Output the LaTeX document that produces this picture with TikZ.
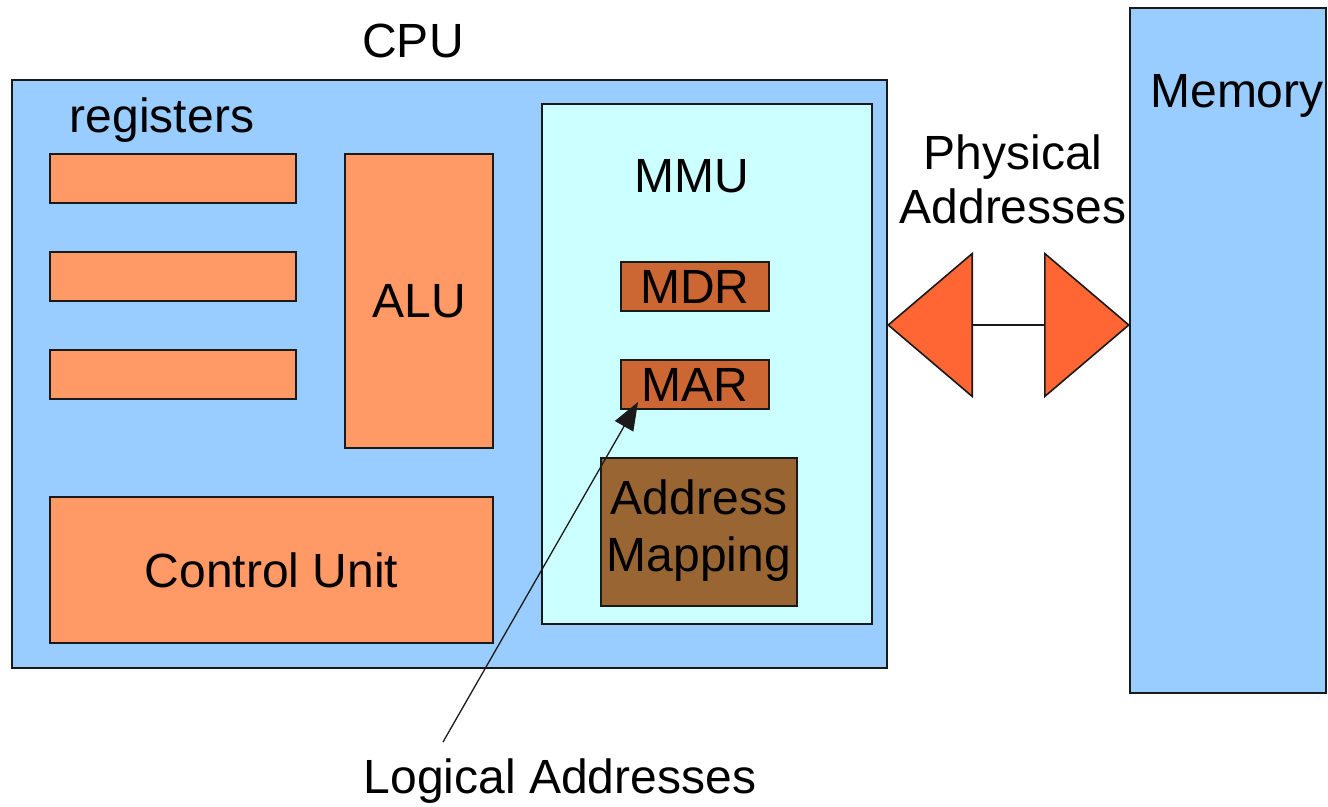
\documentclass[tikz,border=0pt]{standalone}
\usepackage{fontspec}
\setmainfont{Liberation Sans}
\usetikzlibrary{arrows.meta}
\definecolor{cpublue}{HTML}{99CCFF}
\definecolor{regor}{HTML}{FF9966}
\definecolor{mmucyan}{HTML}{CCFFFF}
\definecolor{mreg}{HTML}{CC6633}
\definecolor{mapbrown}{HTML}{996633}
\definecolor{busor}{HTML}{FF6633}
\definecolor{edge}{HTML}{1A1A1A}
\tikzset{bustip/.tip={Triangle[length=86pt,width=146pt,fill=busor]}}
\begin{document}
\begin{tikzpicture}[x=1pt,y=-1pt,
  box/.style={draw=edge, line width=1.6pt, anchor=north west, inner sep=0pt, outer sep=0pt,
    font=\fontsize{48}{57}\selectfont, align=center},
  lbl/.style={anchor=base, inner sep=0pt, font=\fontsize{48}{54}\selectfont, align=center},
  bus/.style={draw=edge, line width=1.6pt},
  ptr/.style={draw=edge, line width=1.3pt, -{Triangle[length=28pt,width=21pt]}}
]
\useasboundingbox (0,0) rectangle (1328,806);
% CPU
\node[box, fill=cpublue, minimum width=875pt, minimum height=588pt] (cpu) at (12,80) {};
\node[lbl] (cpul) at (413,57) {CPU};
\node[lbl] (regl) at (162,132) {registers};
\node[box, fill=regor, minimum width=246pt, minimum height=49pt] (r1) at (50,154) {};
\node[box, fill=regor, minimum width=246pt, minimum height=49pt] (r2) at (50,252) {};
\node[box, fill=regor, minimum width=246pt, minimum height=49pt] (r3) at (50,350) {};
\node[box, fill=regor, minimum width=148pt, minimum height=294pt] (alu) at (345,154) {ALU};
\node[box, fill=regor, minimum width=443pt, minimum height=146pt] (cu) at (50,497) {Control Unit};
% MMU
\node[box, fill=mmucyan, minimum width=330pt, minimum height=520pt] (mmu) at (542,104) {};
\node[lbl] (mmul) at (692,192) {MMU};
\node[box, fill=mreg, minimum width=148pt, minimum height=49pt] (mdr) at (621,262) {MDR};
\node[box, fill=mreg, minimum width=148pt, minimum height=49pt] (mar) at (621,360) {MAR};
\node[box, fill=mapbrown, minimum width=196pt, minimum height=148pt, text depth=12pt] (map) at (601,458) {Address\\Mapping};
% Memory
\node[box, fill=cpublue, minimum width=196pt, minimum height=685pt] (mem) at (1130,8) {};
\node[lbl] (meml) at (1237,107) {Memory};
% bus
\node[lbl] (phys) at (1013,223) {Physical\\Addresses};
\coordinate (busL) at ([yshift=49pt]cpu.east);
\draw[bus, bustip-bustip] (busL) -- (busL -| mem.west);
% logical addresses
\node[lbl] (logl) at (560,793) {Logical Addresses};
\coordinate (lstart) at (443,742);
\draw[ptr] (lstart) -- ([shift={(17pt,7pt)}]mar.south west);
\end{tikzpicture}
\end{document}
